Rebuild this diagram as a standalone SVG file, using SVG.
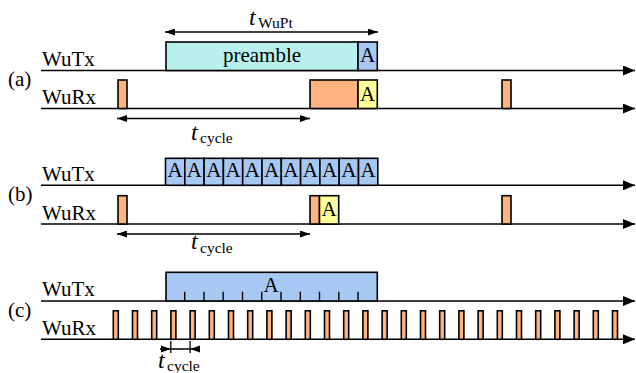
<svg xmlns="http://www.w3.org/2000/svg" width="636" height="373" viewBox="0 0 636 373">
  <style>
    text { font-family: "Liberation Serif", "Times New Roman", serif; font-size: 21px; fill: #000; }
    .mid { text-anchor: middle; }
    .it { font-style: italic; font-size: 24px; }
    .sub { font-size: 15.5px; }
    .box { stroke: #000; stroke-width: 1.6; }
    .pre { fill: #b8f0ee; }
    .ack { fill: #a6c8f2; }
    .rx { fill: #ffb380; }
    .ok { fill: #ffff99; }
    .axis { stroke: #000; stroke-width: 1.6; fill: none; marker-end: url(#axisHead); }
    .dim { stroke: #000; stroke-width: 1.3; fill: none; }
    .dim2 { marker-start: url(#dimHead); marker-end: url(#dimHead); }
    .tick { stroke: #000; stroke-width: 1.4; }
  </style>
  <defs>
    <marker id="axisHead" markerUnits="userSpaceOnUse" markerWidth="12" markerHeight="10" refX="12" refY="5" orient="auto">
      <path d="M0,0 L12,5 L0,10 Z" fill="#000"/>
    </marker>
    <marker id="dimHead" markerUnits="userSpaceOnUse" markerWidth="10" markerHeight="7" refX="10" refY="3.5" orient="auto-start-reverse">
      <path d="M0,0 L10,3.5 L0,7 Z" fill="#000"/>
    </marker>
    <rect id="pulseWide" width="9" height="28.5" class="box rx"/>
    <rect id="pulseNarrow" width="5" height="28.5" class="box rx"/>
  </defs>

  <!-- row labels -->
  <g id="labels">
    <text x="8" y="86">(a)</text>
    <text x="42" y="65.5">WuTx</text>
    <text x="42" y="104">WuRx</text>
    <text x="8" y="201">(b)</text>
    <text x="42" y="180.5">WuTx</text>
    <text x="42" y="219.5">WuRx</text>
    <text x="8" y="317">(c)</text>
    <text x="42" y="296">WuTx</text>
    <text x="42" y="334.5">WuRx</text>
  </g>

  <!-- time axes and duration arrows -->
  <g id="connectors">
    <line class="axis" x1="41" y1="70.5" x2="635" y2="70.5"/>
    <line class="axis" x1="41" y1="108.5" x2="635" y2="108.5"/>
    <line class="axis" x1="41" y1="185.3" x2="635" y2="185.3"/>
    <line class="axis" x1="41" y1="224" x2="635" y2="224"/>
    <line class="axis" x1="41" y1="301" x2="635" y2="301"/>
    <line class="axis" x1="41" y1="339.3" x2="635" y2="339.3"/>

    <line class="dim dim2" x1="165" y1="32" x2="378" y2="32"/>
    <line class="dim dim2" x1="117" y1="118.5" x2="310" y2="118.5"/>
    <line class="dim dim2" x1="117" y1="234" x2="310" y2="234"/>

    <!-- short cycle in (c): inward heads outside the interval -->
    <line class="dim" x1="170.8" y1="341" x2="170.8" y2="353"/>
    <line class="dim" x1="190.1" y1="341" x2="190.1" y2="353"/>
    <line class="dim" x1="160" y1="349" x2="200" y2="349"/>
    <path d="M161,345.5 L170.8,349 L161,352.5 Z" fill="#000"/>
    <path d="M200,345.5 L190.1,349 L200,352.5 Z" fill="#000"/>
  </g>

  <!-- duration labels -->
  <g id="durations">
    <text x="249" y="25"><tspan class="it">t</tspan><tspan class="sub" x="258" y="28">WuPt</tspan></text>
    <text x="191" y="139.5"><tspan class="it">t</tspan><tspan class="sub" x="200" y="143">cycle</tspan></text>
    <text x="191" y="249"><tspan class="it">t</tspan><tspan class="sub" x="200" y="252.5">cycle</tspan></text>
    <text x="158" y="367.5"><tspan class="it">t</tspan><tspan class="sub" x="167" y="371">cycle</tspan></text>
  </g>

  <!-- (a) preamble-based wake-up -->
  <g id="a-tx-preamble">
    <rect class="box pre" x="166" y="42" width="192" height="28.5"/>
    <text class="mid" x="262" y="62">preamble</text>
  </g>
  <g id="a-tx-ack">
    <rect class="box ack" x="358" y="42" width="19.3" height="28.5"/>
    <text class="mid" x="367.7" y="62">A</text>
  </g>
  <g id="a-rx-listen1"><use href="#pulseWide" x="118" y="80"/></g>
  <g id="a-rx-listen2"><rect class="box rx" x="310" y="80" width="48" height="28.5"/></g>
  <g id="a-rx-ack">
    <rect class="box ok" x="358" y="80" width="19.3" height="28.5"/>
    <text class="mid" x="367.7" y="100.5">A</text>
  </g>
  <g id="a-rx-listen3"><use href="#pulseWide" x="502" y="80"/></g>

  <!-- (b) repeated wake-up frames -->
  <g id="b-tx-frames">
    <rect class="box ack" x="165.5" y="158.3" width="19.3" height="27"/>
    <rect class="box ack" x="184.8" y="158.3" width="19.3" height="27"/>
    <rect class="box ack" x="204.1" y="158.3" width="19.3" height="27"/>
    <rect class="box ack" x="223.4" y="158.3" width="19.3" height="27"/>
    <rect class="box ack" x="242.7" y="158.3" width="19.3" height="27"/>
    <rect class="box ack" x="262" y="158.3" width="19.3" height="27"/>
    <rect class="box ack" x="281.3" y="158.3" width="19.3" height="27"/>
    <rect class="box ack" x="300.6" y="158.3" width="19.3" height="27"/>
    <rect class="box ack" x="319.9" y="158.3" width="19.3" height="27"/>
    <rect class="box ack" x="339.2" y="158.3" width="19.3" height="27"/>
    <rect class="box ack" x="358.5" y="158.3" width="19.3" height="27"/>
    <text class="mid" x="175.15" y="177">A</text>
    <text class="mid" x="194.45" y="177">A</text>
    <text class="mid" x="213.75" y="177">A</text>
    <text class="mid" x="233.05" y="177">A</text>
    <text class="mid" x="252.35" y="177">A</text>
    <text class="mid" x="271.65" y="177">A</text>
    <text class="mid" x="290.95" y="177">A</text>
    <text class="mid" x="310.25" y="177">A</text>
    <text class="mid" x="329.55" y="177">A</text>
    <text class="mid" x="348.85" y="177">A</text>
    <text class="mid" x="368.15" y="177">A</text>
  </g>
  <g id="b-rx-listen1"><rect class="box rx" x="118" y="195.7" width="9" height="28.3"/></g>
  <g id="b-rx-listen2"><rect class="box rx" x="310" y="195.7" width="9.5" height="28.3"/></g>
  <g id="b-rx-ack">
    <rect class="box ok" x="319.5" y="195.7" width="19.2" height="28.3"/>
    <text class="mid" x="329.1" y="216">A</text>
  </g>
  <g id="b-rx-listen3"><rect class="box rx" x="502" y="195.7" width="9" height="28.3"/></g>

  <!-- (c) long frame with frequent sampling -->
  <g id="c-tx-frame">
    <rect class="box ack" x="166" y="272.3" width="211.3" height="28.7"/>
    <g class="tick">
      <line x1="184.7" y1="291.7" x2="184.7" y2="301"/>
      <line x1="204" y1="291.7" x2="204" y2="301"/>
      <line x1="223.2" y1="291.7" x2="223.2" y2="301"/>
      <line x1="242.5" y1="291.7" x2="242.5" y2="301"/>
      <line x1="261.7" y1="291.7" x2="261.7" y2="301"/>
      <line x1="281" y1="291.7" x2="281" y2="301"/>
      <line x1="300.3" y1="291.7" x2="300.3" y2="301"/>
      <line x1="319.5" y1="291.7" x2="319.5" y2="301"/>
      <line x1="338.8" y1="291.7" x2="338.8" y2="301"/>
      <line x1="358" y1="291.7" x2="358" y2="301"/>
    </g>
    <text class="mid" x="271" y="292.3">A</text>
  </g>
  <g id="c-rx-samples">
    <use href="#pulseNarrow" x="113.3" y="310.8"/>
    <use href="#pulseNarrow" x="132.5" y="310.8"/>
    <use href="#pulseNarrow" x="151.7" y="310.8"/>
    <use href="#pulseNarrow" x="170.9" y="310.8"/>
    <use href="#pulseNarrow" x="190.1" y="310.8"/>
    <use href="#pulseNarrow" x="209.3" y="310.8"/>
    <use href="#pulseNarrow" x="228.5" y="310.8"/>
    <use href="#pulseNarrow" x="247.7" y="310.8"/>
    <use href="#pulseNarrow" x="266.9" y="310.8"/>
    <use href="#pulseNarrow" x="286.1" y="310.8"/>
    <use href="#pulseNarrow" x="305.3" y="310.8"/>
    <use href="#pulseNarrow" x="324.5" y="310.8"/>
    <use href="#pulseNarrow" x="343.7" y="310.8"/>
    <use href="#pulseNarrow" x="362.9" y="310.8"/>
    <use href="#pulseNarrow" x="382.1" y="310.8"/>
    <use href="#pulseNarrow" x="401.3" y="310.8"/>
    <use href="#pulseNarrow" x="420.5" y="310.8"/>
    <use href="#pulseNarrow" x="439.7" y="310.8"/>
    <use href="#pulseNarrow" x="458.9" y="310.8"/>
    <use href="#pulseNarrow" x="478.1" y="310.8"/>
    <use href="#pulseNarrow" x="497.3" y="310.8"/>
    <use href="#pulseNarrow" x="516.5" y="310.8"/>
    <use href="#pulseNarrow" x="535.7" y="310.8"/>
    <use href="#pulseNarrow" x="554.9" y="310.8"/>
    <use href="#pulseNarrow" x="574.1" y="310.8"/>
    <use href="#pulseNarrow" x="593.3" y="310.8"/>
    <use href="#pulseNarrow" x="612.5" y="310.8"/>
  </g>
</svg>
